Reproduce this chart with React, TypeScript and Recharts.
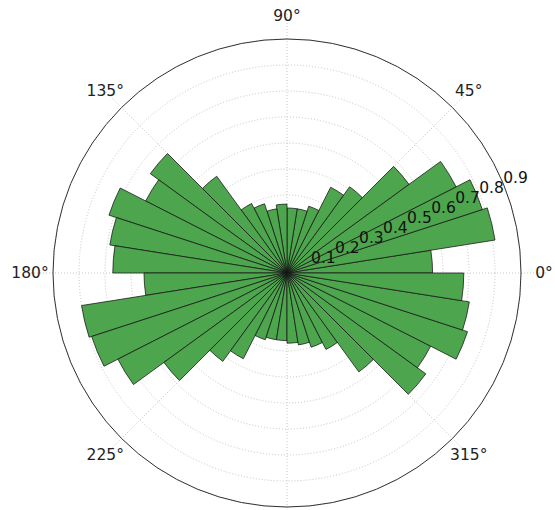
import React from "react";
import {
  RadialBarChart,
  RadialBar,
  PolarAngleAxis,
  PolarRadiusAxis,
  PolarGrid,
} from "recharts";

// start angle (deg) of each 9° sector
const BIN_START = [
  0, 9, 18, 27, 36, 45, 54, 63, 72, 81, 90, 99, 108, 117, 126, 135, 144, 153, 162, 171,
  180, 189, 198, 207, 216, 225, 234, 243, 252, 261, 270, 279, 288, 297, 306, 315, 324, 333, 342, 351,
];

// bar length of each sector
const RADII = [
  0.56, 0.81, 0.79, 0.73, 0.58, 0.41, 0.37, 0.27, 0.25, 0.25,
  0.265, 0.25, 0.28, 0.3, 0.46, 0.65, 0.61, 0.72, 0.69, 0.67,
  0.55, 0.8, 0.79, 0.73, 0.585, 0.42, 0.37, 0.27, 0.26, 0.26,
  0.27, 0.28, 0.3, 0.33, 0.47, 0.66, 0.62, 0.73, 0.71, 0.68,
];

const ANGLE_TICKS = [0, 45, 90, 135, 180, 225, 270, 315];
const RING_TICKS = [0.1, 0.2, 0.3, 0.4, 0.5, 0.6, 0.7, 0.8, 0.9];
const OUTER_RING = [0.9];

const data = BIN_START.map((deg, i) => ({ bin: deg, r: RADII[i] }));

const W = 555;
const H = 510;
const FONT = "DejaVu Sans, sans-serif";

function AngleTick(props: any) {
  const { x, y, payload } = props;
  // the 270° label falls below the picture, as in the original
  if (y > H) return null;
  return (
    <text
      x={x}
      y={y}
      textAnchor="middle"
      dominantBaseline="central"
      fontFamily={FONT}
      fontSize={15.5}
      fill="#222"
    >
      {payload.value}°
    </text>
  );
}

function RadiusTick(props: any) {
  const { x, y, payload } = props;
  return (
    <text x={x} y={y} textAnchor="start" fontFamily={FONT} fontSize={15.5} fill="#111">
      {String(payload.value)}
    </text>
  );
}

export default function App() {
  // recharts shifts band ticks of a full-circle angle axis back by one band,
  // so the circle starts one band (9°) later to put bin 0 on 0°..9°.
  // the radius axis rounds its domain up to 1.0, so 0.9 lands at 234px.
  return (
    <div style={{ position: "absolute", left: 0, top: 0, width: W, height: H, background: "#fff" }}>
      <RadialBarChart
        width={W}
        height={H}
        data={data}
        layout="centric"
        cx={287}
        cy={273}
        innerRadius={0}
        outerRadius={260}
        startAngle={9}
        endAngle={369}
        barCategoryGap={0}
        barGap={0}
        margin={{ top: 0, right: 0, bottom: 0, left: 0 }}
      >
        <PolarGrid
          angleAxisId="deg"
          gridType="circle"
          outerRadius={234}
          stroke="#c4c4c4"
          strokeDasharray="1 2"
        />
        <PolarGrid
          angleAxisId="deg"
          radiusAxisId="outer"
          gridType="circle"
          radialLines={false}
          stroke="#333"
          strokeWidth={1}
        />
        <PolarAngleAxis
          angleAxisId={0}
          dataKey="bin"
          type="category"
          scale="band"
          tick={false}
          tickLine={false}
          axisLine={false}
        />
        <PolarAngleAxis
          angleAxisId="deg"
          dataKey="bin"
          type="category"
          scale="band"
          ticks={ANGLE_TICKS}
          orientation="inner"
          tickSize={3}
          tickLine={false}
          axisLine={false}
          tick={AngleTick}
        />
        <RadialBar
          dataKey="r"
          angleAxisId={0}
          fill="#4da64d"
          stroke="#151515"
          strokeOpacity={0.85}
          strokeWidth={0.9}
          isAnimationActive={false}
        />
        <PolarRadiusAxis
          radiusAxisId="outer"
          dataKey="r"
          type="number"
          ticks={OUTER_RING}
          tick={false}
          axisLine={false}
          tickLine={false}
        />
        <PolarRadiusAxis
          type="number"
          ticks={RING_TICKS}
          angle={22.5}
          axisLine={false}
          tickLine={false}
          tick={RadiusTick}
        />
      </RadialBarChart>
    </div>
  );
}
